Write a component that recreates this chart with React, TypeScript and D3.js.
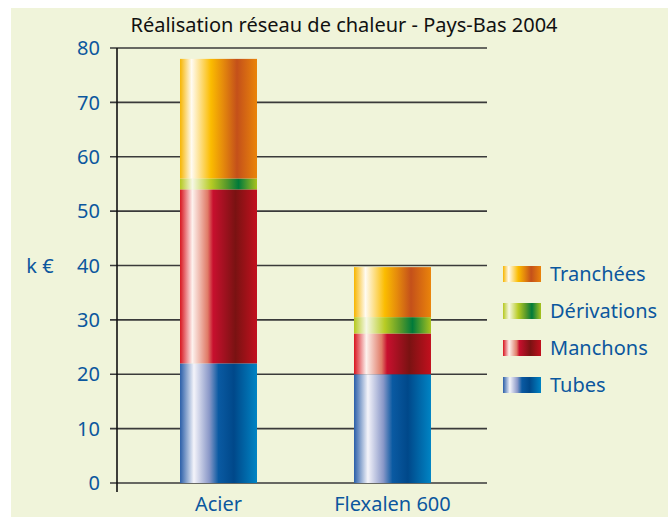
import { useEffect, useRef } from 'react';
import * as d3 from 'd3';

const categories = ['Acier', 'Flexalen 600'];
const tubes = [22, 20];
const manchons = [32, 7.5];
const derivations = [2, 3];
const tranchees = [22, 9.2];
const yTicks = [0, 10, 20, 30, 40, 50, 60, 70, 80];

const seriesNames = ['Tubes', 'Manchons', 'Dérivations', 'Tranchées'];
const seriesValues = [tubes, manchons, derivations, tranchees];

// horizontal "cylinder" gradients, one per series
const gradients: Record<string, [number, string][]> = {
  Tubes: [[0, '#2a5ea8'], [0.18, '#f4f4fa'], [0.38, '#8a98c8'], [0.5, '#0a5aa2'], [0.7, '#00488a'], [1, '#0084c4']],
  Manchons: [[0, '#d8141e'], [0.16, '#fdf2ee'], [0.36, '#e07a66'], [0.43, '#c8102e'], [0.72, '#7a1212'], [1, '#c2101e']],
  'Dérivations': [[0, '#b5c81e'], [0.16, '#f6f8e6'], [0.4, '#b8cc24'], [0.6, '#5a9a2a'], [0.76, '#007a3a'], [1, '#a9c21e']],
  'Tranchées': [[0, '#f7b500'], [0.15, '#fffbf2'], [0.4, '#fbbc00'], [0.56, '#e58a0c'], [0.74, '#c4501a'], [1, '#ea840a']],
};

const W = 668;
const H = 517;
const blue = '#0b579e';
const font = '"Noto Sans", "DejaVu Sans", sans-serif';

export default function App() {
  const svgRef = useRef<SVGSVGElement>(null);

  useEffect(() => {
    const svg = d3.select(svgRef.current);
    svg.selectAll('*').remove();

    const defs = svg.append('defs');
    Object.entries(gradients).forEach(([name, stops]) => {
      const lg = defs.append('linearGradient')
        .attr('id', 'g-' + seriesNames.indexOf(name))
        .attr('x1', 0).attr('x2', 1).attr('y1', 0).attr('y2', 0);
      stops.forEach(([o, c]) => lg.append('stop').attr('offset', o).attr('stop-color', c));
    });

    // background panel
    svg.append('rect').attr('x', 11).attr('y', 8).attr('width', W - 11).attr('height', H - 8)
      .attr('fill', '#f0f4da');

    const y = d3.scaleLinear().domain([0, 80]).range([483, 48]);
    const x = d3.scaleBand().domain(categories).range([120, 491])
      .paddingInner(0.5575).paddingOuter(0.345);

    // title
    svg.append('text').attr('x', 344).attr('y', 32).attr('text-anchor', 'middle')
      .attr('font-family', font).attr('font-size', 20).attr('fill', '#111')
      .text('Réalisation réseau de chaleur - Pays-Bas 2004');

    // grid lines
    svg.selectAll('.grid').data(yTicks).join('line')
      .attr('x1', 110).attr('x2', 487)
      .attr('y1', d => y(d)).attr('y2', d => y(d))
      .attr('stroke', '#3a3a3a').attr('stroke-width', 1.6);

    // tick labels
    svg.selectAll('.tick-label').data(yTicks).join('text')
      .attr('x', 100).attr('y', d => y(d)).attr('dy', '0.36em')
      .attr('text-anchor', 'end').attr('font-family', font).attr('font-size', 20)
      .attr('fill', blue).text(d => d);

    // y axis line
    svg.append('line').attr('x1', 117).attr('x2', 117).attr('y1', 48).attr('y2', 492)
      .attr('stroke', '#111').attr('stroke-width', 1.6);

    svg.append('text').attr('x', 40).attr('y', 266).attr('dy', '0.36em')
      .attr('text-anchor', 'middle').attr('font-family', font).attr('font-size', 20)
      .attr('fill', blue).text('k €');

    // stacked bars
    const rows = categories.map((c, i) => {
      const r: Record<string, any> = { cat: c };
      seriesNames.forEach((s, j) => { r[s] = seriesValues[j][i]; });
      return r;
    });
    const stack = d3.stack<any>().keys(seriesNames)(rows);
    stack.forEach((layer, j) => {
      svg.append('g').selectAll('rect').data(layer).join('rect')
        .attr('x', d => x(d.data.cat)!)
        .attr('width', x.bandwidth())
        .attr('y', d => y(d[1]))
        .attr('height', d => y(d[0]) - y(d[1]))
        .attr('fill', `url(#g-${j})`);
    });

    // category labels
    svg.selectAll('.cat').data(categories).join('text')
      .attr('x', d => x(d)! + x.bandwidth() / 2).attr('y', 511)
      .attr('text-anchor', 'middle').attr('font-family', font).attr('font-size', 20)
      .attr('fill', blue).text(d => d);

    // legend (top to bottom: reversed stack order)
    const legendItems = [...seriesNames].reverse();
    const lg = svg.append('g').selectAll('g').data(legendItems).join('g')
      .attr('transform', (_, i) => `translate(503,${266 + i * 37})`);
    lg.append('rect').attr('width', 38).attr('height', 16)
      .attr('fill', d => `url(#g-${seriesNames.indexOf(d)})`);
    lg.append('text').attr('x', 47).attr('y', 8).attr('dy', '0.36em')
      .attr('font-family', font).attr('font-size', 20).attr('fill', blue)
      .text(d => d);
  }, []);

  return (
    <svg ref={svgRef} width={W} height={H}
      style={{ position: 'absolute', left: 0, top: 0, display: 'block' }} />
  );
}
